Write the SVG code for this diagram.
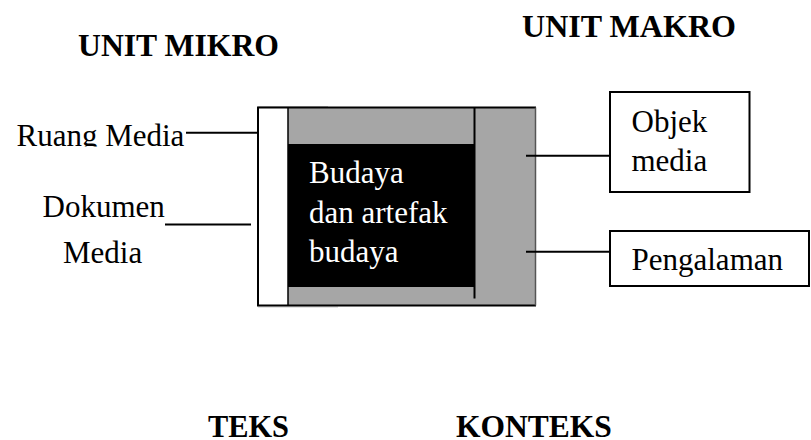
<svg xmlns="http://www.w3.org/2000/svg" width="811" height="440" viewBox="0 0 811 440">
  <style>
    .lbl { font-family: "Liberation Serif", "Times New Roman", serif; font-size: 31px; fill: #000; }
    .inv { fill: #fff; }
    .ttl { font-family: "Liberation Serif", "Times New Roman", serif; font-size: 31.5px; font-weight: bold; fill: #000; }
    .ln { stroke: #000; stroke-width: 2; fill: none; }
    .box { fill: #fff; stroke: #000; stroke-width: 2; }
  </style>
  <defs>
    <clipPath id="ruangClip">
      <rect x="0" y="110" width="200" height="36.5"/>
    </clipPath>
  </defs>
  <rect width="811" height="440" fill="#fff"/>

  <!-- headings -->
  <g id="unit-mikro"><text class="ttl" x="78" y="56" textLength="201" lengthAdjust="spacingAndGlyphs">UNIT MIKRO</text></g>
  <g id="unit-makro"><text class="ttl" x="522" y="37" textLength="214" lengthAdjust="spacingAndGlyphs">UNIT MAKRO</text></g>
  <g id="teks"><text class="ttl" x="208" y="437" textLength="81" lengthAdjust="spacingAndGlyphs">TEKS</text></g>
  <g id="konteks"><text class="ttl" x="456" y="437">KONTEKS</text></g>

  <!-- central media block -->
  <g id="media-block">
    <rect x="288" y="107.5" width="248" height="198" fill="#a6a6a6"/>
    <rect x="258" y="107.5" width="30" height="198" fill="#fff"/>
    <rect x="288" y="144" width="186" height="143" fill="#000"/>
    <line x1="258" y1="106.5" x2="328" y2="106.5" stroke="#c8c8c8" stroke-width="1"/>
    <line x1="258" y1="307" x2="338" y2="307" stroke="#c8c8c8" stroke-width="1"/>
    <path class="ln" d="M536 107.5 H258 V305.5 H536"/>
    <line x1="535.5" y1="107.5" x2="535.5" y2="305.5" stroke="#555" stroke-width="1.5"/>
    <line x1="288" y1="107.5" x2="288" y2="305.5" stroke="#000" stroke-width="1.5"/>
    <line x1="474.5" y1="107.5" x2="474.5" y2="298.5" stroke="#000" stroke-width="2"/>
    <text class="lbl inv" x="309" y="183">Budaya</text>
    <text class="lbl inv" x="309" y="223">dan artefak</text>
    <text class="lbl inv" x="309" y="262">budaya</text>
  </g>

  <!-- side labels -->
  <g id="ruang-media">
    <text class="lbl" x="16.5" y="146" clip-path="url(#ruangClip)">Ruang Media</text>
  </g>
  <g id="dokumen-media">
    <text class="lbl" x="42.5" y="216.5">Dokumen</text>
    <text class="lbl" x="63" y="262.5">Media</text>
  </g>
  <g id="objek-media">
    <rect class="box" x="610" y="92" width="139.5" height="100"/>
    <text class="lbl" x="631.5" y="131.5">Objek</text>
    <text class="lbl" x="631.5" y="171">media</text>
  </g>
  <g id="pengalaman">
    <rect class="box" x="610" y="231" width="199" height="55"/>
    <text class="lbl" x="631.5" y="270">Pengalaman</text>
  </g>

  <!-- connectors -->
  <g id="connectors">
    <line class="ln" x1="186" y1="132.7" x2="258" y2="132.7"/>
    <line class="ln" x1="165" y1="224.5" x2="251" y2="224.5"/>
    <line class="ln" x1="526" y1="155.7" x2="610" y2="155.7"/>
    <line class="ln" x1="526" y1="251.7" x2="610" y2="251.7"/>
  </g>
</svg>
